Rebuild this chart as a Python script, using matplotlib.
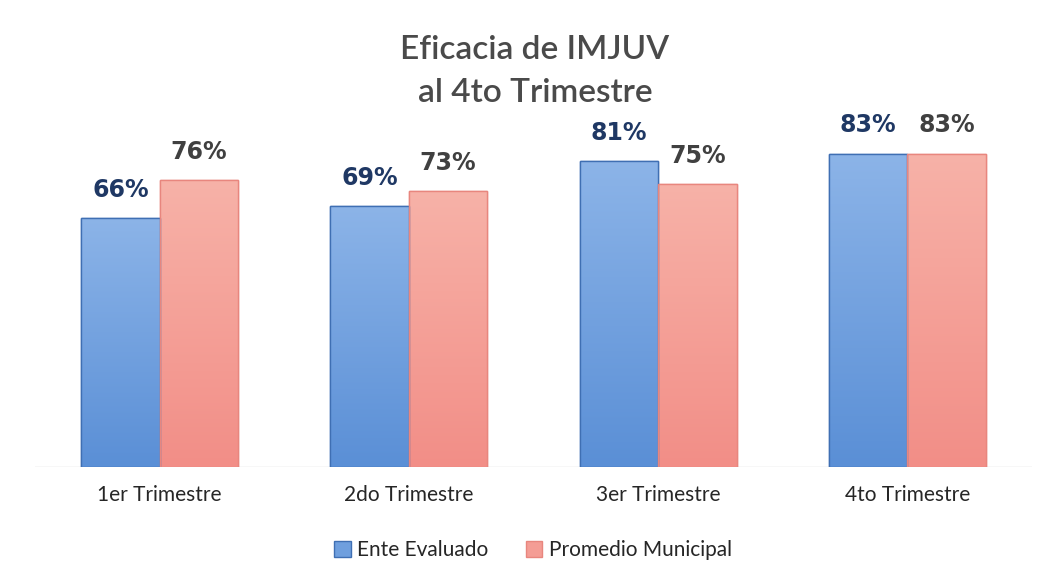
import matplotlib
matplotlib.use("Agg")
import matplotlib.pyplot as plt
import numpy as np
from matplotlib.colors import LinearSegmentedColormap
from matplotlib.patches import Patch

categories = ["1er Trimestre", "2do Trimestre", "3er Trimestre", "4to Trimestre"]
ente = [66, 69, 81, 83]
promedio = [76, 73, 75, 83]
series_names = ["Ente Evaluado", "Promedio Municipal"]
title = "Eficacia de IMJUV\nal 4to Trimestre"

plt.rcParams['font.family'] = ['Lato', 'DejaVu Sans']

fig = plt.figure(figsize=(10.45, 5.85), dpi=100)
fig.patch.set_facecolor("white")
ax = fig.add_axes([0.0335, 0.2017, 0.954, 0.661])
ax.set_xlim(-0.5, len(categories) - 0.5)
ax.set_ylim(0, 102.4)

x = np.arange(len(categories))
w = 0.315
blue_cmap = LinearSegmentedColormap.from_list("b", ["#5a8fd6", "#8cb4e8"])
pink_cmap = LinearSegmentedColormap.from_list("p", ["#f28e87", "#f7b2a8"])

b1 = ax.bar(x - w / 2, ente, w, facecolor="#6f9fde", edgecolor="#3f6fb3", linewidth=1.0, zorder=2)
b2 = ax.bar(x + w / 2, promedio, w, facecolor="#f49d95", edgecolor="#e8867e", linewidth=1.0, zorder=2)

grad = np.linspace(0, 1, 256).reshape(-1, 1)
for bars, cmap in ((b1, blue_cmap), (b2, pink_cmap)):
    for r in bars:
        x0, y0 = r.get_x(), r.get_y()
        x1, y1 = x0 + r.get_width(), y0 + r.get_height()
        im = ax.imshow(grad, cmap=cmap, origin="lower", aspect="auto",
                       extent=[x0, x1, y0, y1], zorder=2.5)
        im.set_clip_path(r)
        ax.add_patch(plt.Rectangle((x0, y0), x1 - x0, y1 - y0, fill=False,
                                   edgecolor=r.get_edgecolor(), linewidth=1.0, zorder=3))

for i in range(len(categories)):
    ax.text(x[i] - w / 2, ente[i] + 4.3, f"{ente[i]}%", ha="center", va="bottom",
            fontsize=17, fontweight="bold", color="#1f3864", zorder=4,
            family="DejaVu Sans")
    ax.text(x[i] + w / 2, promedio[i] + 4.3, f"{promedio[i]}%", ha="center", va="bottom",
            fontsize=17, fontweight="bold", color="#404040", zorder=4,
            family="DejaVu Sans")

ax.axhline(0, color="#d9d9d9", linewidth=1.0, zorder=1)
for s in ax.spines.values():
    s.set_visible(False)
ax.set_yticks([])
ax.set_xticks(x)
ax.set_xticklabels(categories, fontsize=15, color="#262626")
ax.tick_params(axis="x", length=0, pad=13)

fig.text(0.512, 0.878, title, ha="center", va="center", fontsize=24,
         fontweight="semibold", color="#4a4a4a", linespacing=1.55)

handles = [Patch(facecolor="#6f9fde", edgecolor="#3f6fb3"),
           Patch(facecolor="#f49d95", edgecolor="#e8867e")]
fig.legend(handles, series_names, loc="center", bbox_to_anchor=(0.51, 0.06),
           ncol=2, frameon=False, fontsize=15, handlelength=0.8, handleheight=0.8,
           handletextpad=0.3, columnspacing=1.8, labelcolor="#262626")

fig.savefig("out.png", dpi=100, facecolor="white")
